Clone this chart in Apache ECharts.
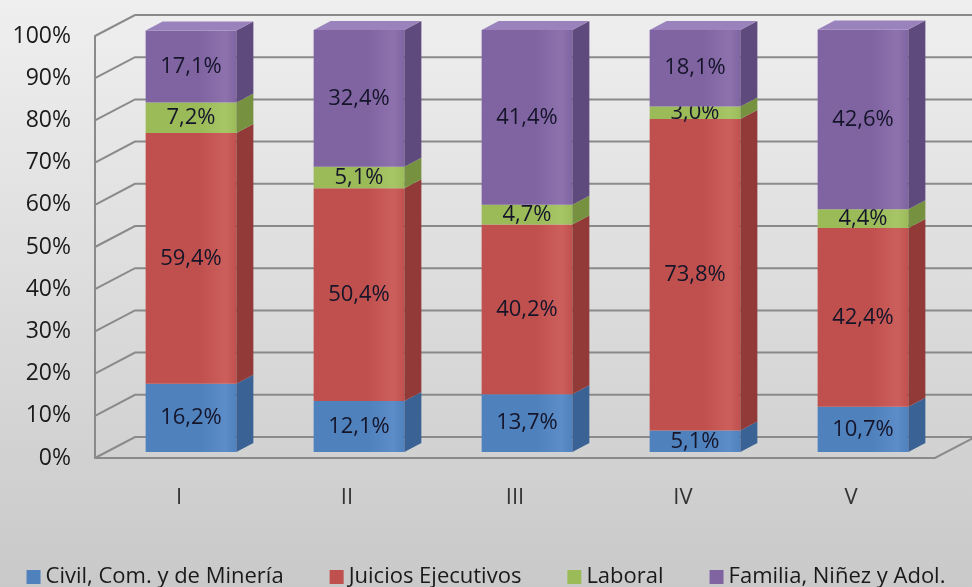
<!DOCTYPE html>
<html>
<head>
<meta charset="utf-8">
<script src="https://cdn.jsdelivr.net/npm/echarts@6/dist/echarts.min.js"></script>
<style>
  html, body { margin: 0; padding: 0; }
  #chart { width: 972px; height: 587px; }
</style>
</head>
<body>
<div id="chart"></div>
<script>
// datos
var categorias = ["I", "II", "III", "IV", "V"];
var civil = [16.2, 12.1, 13.7, 5.1, 10.7];
var juicios = [59.4, 50.4, 40.2, 73.8, 42.4];
var laboral = [7.2, 5.1, 4.7, 3.0, 4.4];
var familia = [17.1, 32.4, 41.4, 18.1, 42.6];
var ticks = [0, 10, 20, 30, 40, 50, 60, 70, 80, 90, 100];

var nombres = ["Civil, Com. y de Minería", "Juicios Ejecutivos", "Laboral", "Familia, Niñez y Adol."];
var valores = [civil, juicios, laboral, familia];
var colores = ["#4F81BD", "#C0504D", "#9BBB59", "#8064A2"];
var lados = ["#3A6294", "#913A38", "#769140", "#5E4A7C"];
var techos = ["#6E97CB", "#D16F6C", "#B0CC74", "#9A82BC"];
var brillos = ["#5C8DC8", "#CC5F5C", "#A7C566", "#8D72AE"];

var fuente = '"Open Sans", "Noto Sans", sans-serif';

var myChart = echarts.init(document.getElementById("chart"));

// paredes 3D (lineas de la pared del fondo)
var pared = {
  type: "custom",
  z: 1,
  silent: true,
  legendHoverLink: false,
  data: ticks.map(function (t) { return [0, t]; }),
  renderItem: function (params, api) {
    var band = api.size([1, 0])[0];
    var p = api.coord([0, api.value(1)]);
    var x0 = p[0] - band / 2;
    var y = p[1];
    var els = [{
      type: "polyline",
      shape: { points: [[x0, y], [x0 + 40, y - 21], [980, y - 21]] },
      style: { stroke: "#8a8a8a", lineWidth: 2, fill: null }
    }];
    if (api.value(1) === 0) {
      var xr = api.coord([categorias.length - 1, 0])[0] + band / 2;
      els.push({
        type: "polyline",
        shape: { points: [[x0, y], [xr, y], [xr + 40, y - 21]] },
        style: { stroke: "#8a8a8a", lineWidth: 2, fill: null }
      });
    }
    return { type: "group", children: els };
  }
};

function fmt(v) {
  return v.toFixed(1).replace(".", ",") + "%";
}

function serieBarra(k) {
  var data = valores[k].map(function (v, i) {
    var base = 0;
    for (var j = 0; j < k; j++) base += valores[j][i];
    return [i, base, base + v, v];
  });
  return {
    name: nombres[k],
    type: "custom",
    z: 3,
    itemStyle: { color: colores[k] },
    encode: { x: 0, y: [1, 2] },
    data: data,
    renderItem: function (params, api) {
      var band = api.size([1, 0])[0];
      var a = api.coord([api.value(0), api.value(1)]);
      var b = api.coord([api.value(0), api.value(2)]);
      var cx = a[0] + 12;
      var yb = a[1] - 6;
      var yt = b[1] - 6;
      var w = band * 0.54;
      var xl = cx - w / 2;
      var xr = cx + w / 2;
      var dx = 17, dy = -9;
      var els = [
        {
          type: "rect",
          shape: { x: xl, y: yt, width: w, height: yb - yt },
          style: {
            fill: new echarts.graphic.LinearGradient(0, 0, 1, 0, [
              { offset: 0, color: colores[k] },
              { offset: 0.6, color: colores[k] },
              { offset: 0.88, color: brillos[k] },
              { offset: 1, color: colores[k] }
            ])
          }
        },
        {
          type: "polygon",
          shape: { points: [[xr, yb], [xr + dx, yb + dy], [xr + dx, yt + dy], [xr, yt]] },
          style: { fill: lados[k] }
        }
      ];
      if (k === valores.length - 1) {
        els.push({
          type: "polygon",
          shape: { points: [[xl, yt], [xl + dx, yt + dy], [xr + dx, yt + dy], [xr, yt]] },
          style: { fill: techos[k] }
        });
      }
      els.push({
        type: "text",
        style: {
          text: fmt(api.value(3)),
          x: cx,
          y: (yb + yt) / 2,
          align: "center",
          verticalAlign: "middle",
          fill: "#15152a",
          font: "22px " + fuente
        }
      });
      return { type: "group", children: els };
    }
  };
}

var option = {
  backgroundColor: new echarts.graphic.LinearGradient(0, 0, 0, 1, [
    { offset: 0, color: "#efefef" },
    { offset: 1, color: "#c9c9c9" }
  ]),
  animation: false,
  textStyle: { fontFamily: fuente },
  grid: { left: 95, right: 37, top: 36, bottom: 129 },
  legend: {
    top: 561,
    left: "center",
    icon: "rect",
    itemWidth: 14,
    itemHeight: 14,
    itemGap: 46,
    itemStyle: { borderWidth: 0 },
    textStyle: { fontSize: 22, color: "#1a1a1a", fontFamily: fuente },
    data: nombres
  },
  xAxis: {
    type: "category",
    data: categorias,
    axisLine: { show: false },
    axisTick: { show: false },
    axisLabel: { fontSize: 22, color: "#333", margin: 29 }
  },
  yAxis: {
    type: "value",
    min: 0,
    max: 100,
    interval: 10,
    axisLine: { show: true, lineStyle: { color: "#8a8a8a", width: 2 } },
    axisTick: { show: false },
    splitLine: { show: false },
    axisLabel: { fontSize: 23, color: "#1a1a1a", margin: 24, formatter: "{value}%" }
  },
  series: [pared, serieBarra(0), serieBarra(1), serieBarra(2), serieBarra(3)]
};

myChart.setOption(option);
</script>
</body>
</html>
